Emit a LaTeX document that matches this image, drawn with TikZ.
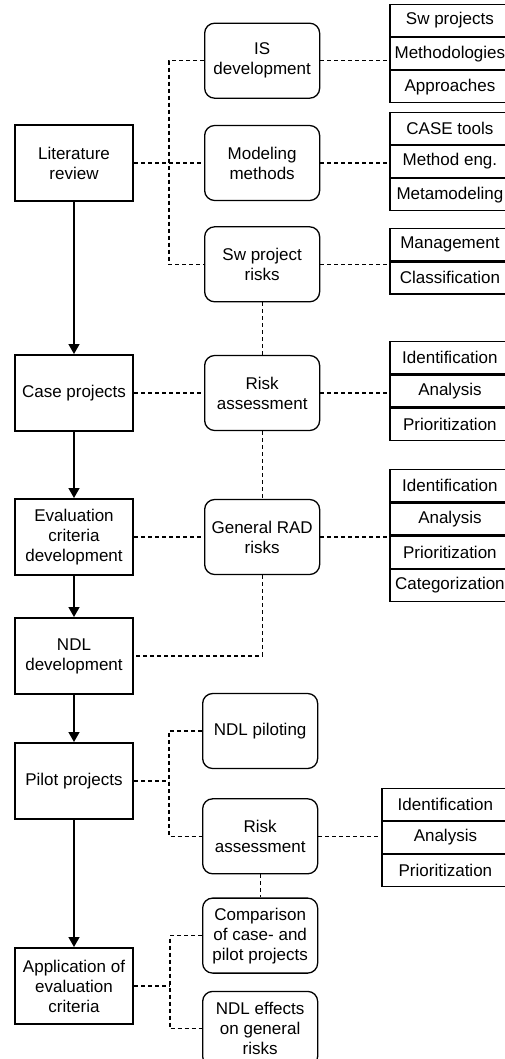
\documentclass[tikz,border=0pt]{standalone}
\usepackage{fontspec}
\setmainfont{Liberation Sans}
\usetikzlibrary{arrows.meta}
\usetikzlibrary{positioning}

\begin{document}
\begin{tikzpicture}[x=1pt, y=-1pt,
    font=\fontsize{17}{20}\selectfont,
    stage/.style={draw, line width=2pt, minimum width=118pt, minimum height=76pt, align=center, inner sep=1pt},
    topic/.style={draw, line width=1.3pt, rounded corners=10pt, minimum width=115pt, minimum height=75pt, align=center, inner sep=1pt},
    cell/.style={draw, line width=1.2pt, minimum width=120pt, minimum height=32pt, inner sep=1pt},
    link/.style={line width=1.1pt, dash pattern=on 4pt off 3pt},
    flow/.style={line width=1.4pt, -{Triangle[width=11pt,length=10pt]}}]
  \useasboundingbox (0,0) rectangle (505,1059);

  \node[stage] (lit) at (74,163) {Literature\\review};
  \node[stage, below=152pt of lit] (case) {Case projects};
  \node[stage, below=66pt of case] (eval) {Evaluation\\criteria\\development};
  \node[stage, below=41pt of eval] (ndl) {NDL\\development};
  \node[stage, below=47pt of ndl] (pilot) {Pilot projects};
  \node[stage, below=127pt of pilot] (appl) {Application of\\evaluation\\criteria};

  \node[topic, right=70pt of lit] (model) {Modeling\\methods};
  \node[topic, above=26pt of model] (isdev) {IS\\development};
  \node[topic, below=25pt of model] (swrisk) {Sw project\\risks};
  \node[topic, right=70pt of case] (risk) {Risk\\assessment};
  \node[topic, right=70pt of eval] (rad) {General RAD\\risks};
  \node[topic, right=68pt of pilot, yshift=50pt] (piloting) {NDL piloting};
  \node[topic, below=29pt of piloting] (risk2) {Risk\\assessment};
  \node[topic, below=23pt of risk2] (comp) {Comparison\\of case- and\\pilot projects};
  \node[topic, below=17pt of comp] (effects) {NDL effects\\on general\\risks};

  \node[cell, right=69pt of isdev, yshift=7pt] (c12) {Methodologies};
  \node[cell, above=0pt of c12] (c11) {Sw projects};
  \node[cell, below=0pt of c12] (c13) {Approaches};
  \node[cell, right=69pt of model, yshift=1.5pt] (c22) {Method eng.};
  \node[cell, above=0pt of c22] (c21) {CASE tools};
  \node[cell, below=0pt of c22] (c23) {Metamodeling};
  \node[cell, above right=0pt and 69pt of swrisk.east, yshift=3pt] (c31) {Management};
  \node[cell, below=0pt of c31] (c32) {Classification};
  \node[cell, right=69pt of risk, yshift=2pt] (c42) {Analysis};
  \node[cell, above=0pt of c42] (c41) {Identification};
  \node[cell, below=0pt of c42] (c43) {Prioritization};
  \node[cell, above right=0pt and 69pt of rad.east, yshift=1.5pt] (c52) {Analysis};
  \node[cell, above=0pt of c52] (c51) {Identification};
  \node[cell, below=0pt of c52] (c53) {Prioritization};
  \node[cell, below=0pt of c53] (c54) {Categorization};
  \node[cell, minimum width=127pt, right=63pt of risk2, yshift=-1pt] (c62) {Analysis};
  \node[cell, minimum width=127pt, above=0pt of c62] (c61) {Identification};
  \node[cell, minimum width=127pt, below=0pt of c62] (c63) {Prioritization};

  \draw[flow] (lit) -- (case);
  \draw[flow] (case) -- (eval);
  \draw[flow] (eval) -- (ndl);
  \draw[flow] (ndl) -- (pilot);
  \draw[flow] (pilot) -- (appl);

  \coordinate[right=35pt of lit.east] (j1);
  \draw[link] (lit) -- (model);
  \draw[link] (isdev.west) -| (j1) |- (swrisk.west);
  \draw[link] (isdev) -- (isdev -| c12.west);
  \draw[link] (model) -- (model -| c22.west);
  \draw[link] (swrisk) -- (swrisk -| c31.west);
  \draw[link] (swrisk) -- (risk);
  \draw[link] (case) -- (risk);
  \draw[link] (risk) -- (risk -| c42.west);
  \draw[link] (risk) -- (rad);
  \draw[link] (eval) -- (rad);
  \draw[link] (rad) -- (rad -| c52.west);
  \draw[link] (rad.south) |- (ndl.east);

  \coordinate[right=35pt of pilot.east] (j2);
  \draw[link] (pilot) -- (j2);
  \draw[link] (piloting.west) -| (j2) |- (risk2.west);
  \draw[link] (risk2) -- (risk2 -| c62.west);
  \draw[link] (risk2) -- (comp);

  \coordinate[right=36pt of appl.east] (j3);
  \draw[link] (appl) -- (j3);
  \draw[link] (comp.west) -| (j3) |- (effects.west);
\end{tikzpicture}
\end{document}
